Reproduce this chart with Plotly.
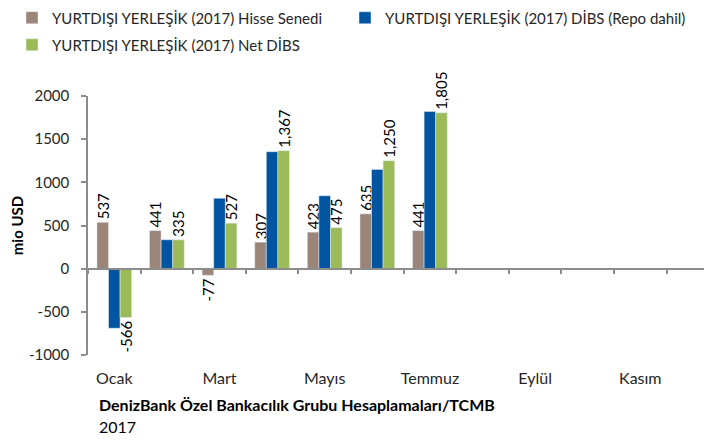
import plotly.graph_objects as go

months = ["Ocak", "Şubat", "Mart", "Nisan", "Mayıs", "Haziran",
          "Temmuz", "Ağustos", "Eylül", "Ekim", "Kasım", "Aralık"]
label_months = ["Ocak", "Mart", "Mayıs", "Temmuz", "Eylül", "Kasım"]

hisse = [537, 441, -77, 307, 423, 635, 441, None, None, None, None, None]
dibs = [-690, 335, 815, 1355, 845, 1150, 1820, None, None, None, None, None]
net_dibs = [-566, 335, 527, 1367, 475, 1250, 1805, None, None, None, None, None]

names = ["YURTDIŞI YERLEŞİK (2017) Hisse Senedi",
         "YURTDIŞI YERLEŞİK (2017) DİBS (Repo dahil)",
         "YURTDIŞI YERLEŞİK (2017) Net DİBS"]
colors = ["#9B8579", "#0054A0", "#9BBB59"]

y_ticks = [-1000, -500, 0, 500, 1000, 1500, 2000]
y_ticklabels = [str(v) for v in y_ticks]

FONT = "Lato"
TXT = "#262626"
AXC = "#8C8C8C"

# the page body has an 8 px margin; the figure is sized to fill the window
PAGE_OFF = 8
PLOT_L, PLOT_T, PLOT_B = 88, 96, 355     # window pixels of the plot area
FIG_W, FIG_H = 712 - PAGE_OFF, 442 - PAGE_OFF
PLOT_W = FIG_W - (PLOT_L - PAGE_OFF)
PLOT_H = PLOT_B - PLOT_T


def fmt(vals):
    return [f"{v:,}" if v is not None else "" for v in vals]


def lx(px):
    return (px - PLOT_L) / PLOT_W


def ly(px):
    return (PLOT_B - px) / PLOT_H


fig = go.Figure()
fig.add_trace(go.Bar(x=months, y=hisse, name=names[0], marker_color=colors[0],
                     text=fmt(hisse), textposition="outside", textangle=-90,
                     constraintext="none", cliponaxis=False,
                     textfont=dict(family=FONT, size=15, color="#000000"),
                     legend="legend"))
fig.add_trace(go.Bar(x=months, y=dibs, name=names[1], marker_color=colors[1],
                     legend="legend2"))
fig.add_trace(go.Bar(x=months, y=net_dibs, name=names[2], marker_color=colors[2],
                     text=fmt(net_dibs), textposition="outside", textangle=-90,
                     constraintext="none", cliponaxis=False,
                     textfont=dict(family=FONT, size=15, color="#000000"),
                     legend="legend3"))
# helper trace so the zero-line category axis is drawn
fig.add_trace(go.Scatter(x=months, y=[None] * len(months), xaxis="x2",
                         mode="markers", showlegend=False, hoverinfo="skip"))

cat_w = 52.6
xr = [-0.5, -0.5 + PLOT_W / cat_w]
legend_common = dict(orientation="h", xanchor="left", yanchor="middle",
                     font=dict(family=FONT, size=15, color=TXT),
                     bgcolor="rgba(0,0,0,0)")
fig.update_layout(
    width=FIG_W, height=FIG_H,
    margin=dict(l=PLOT_L - PAGE_OFF, r=0, t=PLOT_T - PAGE_OFF,
                b=FIG_H - (PLOT_B - PAGE_OFF), autoexpand=False),
    paper_bgcolor="white", plot_bgcolor="white",
    font=dict(family=FONT, size=15, color=TXT),
    barmode="group", bargap=0.34, bargroupgap=0.0,
    xaxis=dict(type="category", categoryorder="array", categoryarray=months,
               range=xr, tickmode="array", tickvals=label_months,
               ticktext=label_months, showline=False, ticks="",
               showgrid=False, zeroline=False, ticklabelstandoff=12,
               tickfont=dict(family=FONT, size=16, color=TXT)),
    xaxis2=dict(type="category", categoryorder="array", categoryarray=months,
                range=xr, overlaying="x", anchor="free", position=1 / 3,
                showline=True, linecolor=AXC, linewidth=1.5,
                ticks="outside", tickson="boundaries", ticklen=5,
                tickcolor=AXC, tickwidth=1.5, tickmode="linear", tick0=0,
                dtick=1, showticklabels=False, showgrid=False,
                zeroline=False),
    yaxis=dict(range=[-1000, 2000], tickmode="array", tickvals=y_ticks,
               ticktext=y_ticklabels, showline=True, linecolor=AXC,
               linewidth=1.5, ticks="outside", ticklen=5, tickcolor=AXC,
               tickwidth=1.5, showgrid=False, zeroline=False,
               ticklabelstandoff=9,
               tickfont=dict(family=FONT, size=15, color=TXT),
               title=dict(text="<b>mio USD</b>", standoff=5,
                          font=dict(family=FONT, size=15, color="#000000"))),
    legend=dict(x=lx(12), y=ly(18), **legend_common),
    legend2=dict(x=lx(345), y=ly(18), **legend_common),
    legend3=dict(x=lx(12), y=ly(45), **legend_common),
    annotations=[
        dict(text="<b>DenizBank Özel Bankacılık Grubu Hesaplamaları/TCMB</b>",
             xref="paper", yref="paper", x=lx(97), y=ly(404),
             xanchor="left", yanchor="middle", showarrow=False,
             font=dict(family=FONT, size=16, color="#000000")),
        dict(text="2017", xref="paper", yref="paper", x=lx(97), y=ly(426),
             xanchor="left", yanchor="middle", showarrow=False,
             font=dict(family=FONT, size=16, color="#000000")),
    ],
)

fig.write_html("out.html")
